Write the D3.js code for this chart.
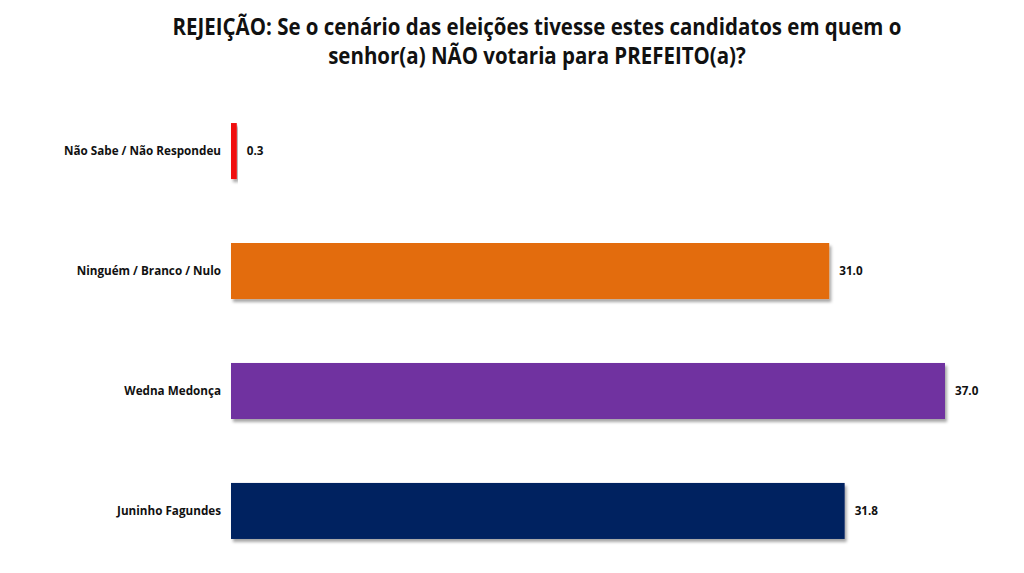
<!DOCTYPE html>
<html>
<head>
<meta charset="utf-8">
<script src="https://cdn.jsdelivr.net/npm/d3@7"></script>
<style>
  html, body { margin: 0; padding: 0; background: #fff; }
  svg { display: block; }
  text { font-family: "Open Sans", sans-serif; font-weight: bold; fill: #111; }
</style>
</head>
<body>
<div id="chart"></div>
<script>
const titleLines = [
  "REJEIÇÃO: Se o cenário das eleições tivesse estes candidatos em quem o",
  "senhor(a) NÃO votaria para PREFEITO(a)?"
];
const categories = ["Não Sabe / Não Respondeu", "Ninguém / Branco / Nulo", "Wedna Medonça", "Juninho Fagundes"];
const values = [0.3, 31.0, 37.0, 31.8];
const colors = ["#f00a0a", "#e36c0a", "#7030a0", "#002060"];

const width = 1024, height = 573;
const margin = { left: 231, right: 79, top: 91, bottom: 2 };

// squeeze Open Sans a little so it sits closer to the narrow original face
const squeeze = (sel, k) => sel.each(function() {
  const w = this.getComputedTextLength();
  d3.select(this)
    .attr("textLength", w * k)
    .attr("lengthAdjust", "spacingAndGlyphs");
});

const svg = d3.select("#chart")
  .append("svg")
  .attr("width", width)
  .attr("height", height);

// soft shadow under each bar
const filter = svg.append("defs").append("filter")
  .attr("id", "shadow")
  .attr("x", "-5%").attr("y", "-20%")
  .attr("width", "115%").attr("height", "150%");
filter.append("feDropShadow")
  .attr("dx", 2).attr("dy", 3)
  .attr("stdDeviation", 1.5)
  .attr("flood-color", "#000")
  .attr("flood-opacity", 0.35);

svg.append("g")
  .selectAll("text")
  .data(titleLines)
  .enter()
  .append("text")
  .attr("x", 537)
  .attr("y", (d, i) => 35 + i * 29)
  .attr("text-anchor", "middle")
  .style("font-size", "23px")
  .text(d => d)
  .call(squeeze, 0.89);

const x = d3.scaleLinear()
  .domain([0, d3.max(values)])
  .range([margin.left, width - margin.right]);

const y = d3.scaleBand()
  .domain(categories)
  .range([margin.top, height - margin.bottom])
  .paddingInner(0.533)
  .paddingOuter(0.267);

const data = categories.map((c, i) => ({ cat: c, val: values[i], color: colors[i] }));

svg.append("g")
  .selectAll("rect")
  .data(data)
  .enter()
  .append("rect")
  .attr("x", x(0))
  .attr("y", d => y(d.cat))
  .attr("width", d => Math.max(3, x(d.val) - x(0)))
  .attr("height", y.bandwidth())
  .attr("fill", d => d.color)
  .attr("filter", "url(#shadow)");

const yAxis = d3.axisLeft(y).tickSize(0).tickPadding(10);
const ag = svg.append("g")
  .attr("transform", `translate(${x(0)},0)`)
  .call(yAxis);
ag.select(".domain").remove();
ag.selectAll("text")
  .style("font-size", "12.5px")
  .style("font-family", "\"Open Sans\", sans-serif")
  .attr("fill", "#111")
  .call(squeeze, 0.935);

svg.append("g")
  .selectAll("text")
  .data(data)
  .enter()
  .append("text")
  .attr("x", d => Math.max(x(d.val), x(0) + 3) + 10)
  .attr("y", d => y(d.cat) + y.bandwidth() / 2)
  .attr("dy", "0.35em")
  .style("font-size", "12.5px")
  .text(d => d.val.toFixed(1))
  .call(squeeze, 0.935);
</script>
</body>
</html>
